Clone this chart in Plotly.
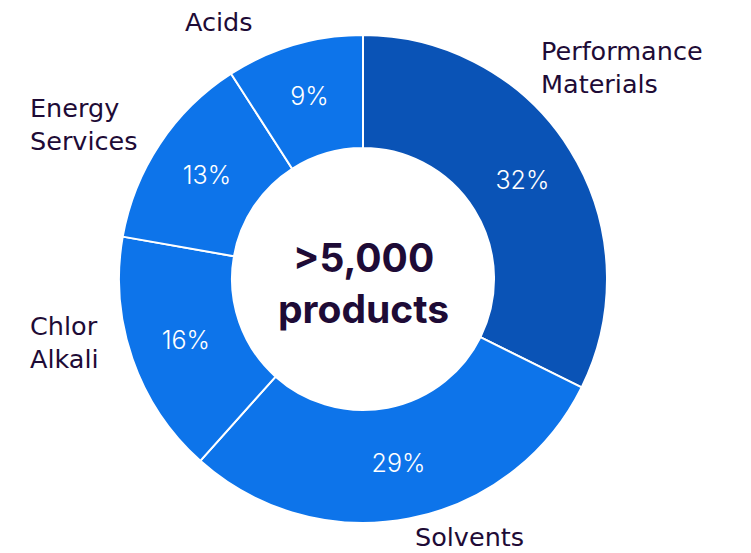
import plotly.graph_objects as go

W, H = 751, 553

categories = ["Performance Materials", "Solvents", "Chlor Alkali", "Energy Services", "Acids"]
values = [32, 29, 16, 13, 9]
pct_labels = ["32%", "29%", "16%", "13%", "9%"]
colors = ["#0A53B6", "#0D74EA", "#0D74EA", "#0D74EA", "#0D74EA"]

# outside label text (display form)
label_text = ["Performance<br>Materials", "Solvents", "Chlor<br>Alkali", "Energy<br>Services", "Acids"]
label_pos = [  # (x px, y px, xanchor)
    (539, 67, "left"),
    (470, 537, "center"),
    (28, 342, "left"),
    (28, 124, "left"),
    (219, 22, "center"),
]

TXT = "#1E0B36"
FONT = "DejaVu Sans"

fig = go.Figure(go.Pie(
    labels=categories,
    values=values,
    text=pct_labels,
    textinfo="text",
    textposition="inside",
    insidetextorientation="horizontal",
    insidetextfont=dict(family="Inter", size=25, color="white", weight=300),
    marker=dict(colors=colors, line=dict(color="white", width=2)),
    hole=0.537,
    sort=False,
    direction="clockwise",
    rotation=0,
    showlegend=False,
    domain=dict(x=[119 / W, 607 / W], y=[(H - 523) / H, (H - 35) / H]),
))

for t, (px, py, xa) in zip(label_text, label_pos):
    fig.add_annotation(
        text=t, x=px / W, y=1 - py / H, xref="paper", yref="paper",
        xanchor=xa, yanchor="middle", align="left", showarrow=False,
        font=dict(family=FONT, size=25.5, color=TXT, weight=400),
    )

fig.add_annotation(
    text=">5,000<br>products", x=363 / W, y=1 - 283 / H, xref="paper", yref="paper",
    xanchor="center", yanchor="middle", showarrow=False,
    font=dict(family="Inter", size=39, color=TXT, weight=700),
)

fig.update_layout(
    width=W, height=H,
    margin=dict(l=0, r=0, t=0, b=0),
    paper_bgcolor="white", plot_bgcolor="white",
)

fig.write_html("out.html")
